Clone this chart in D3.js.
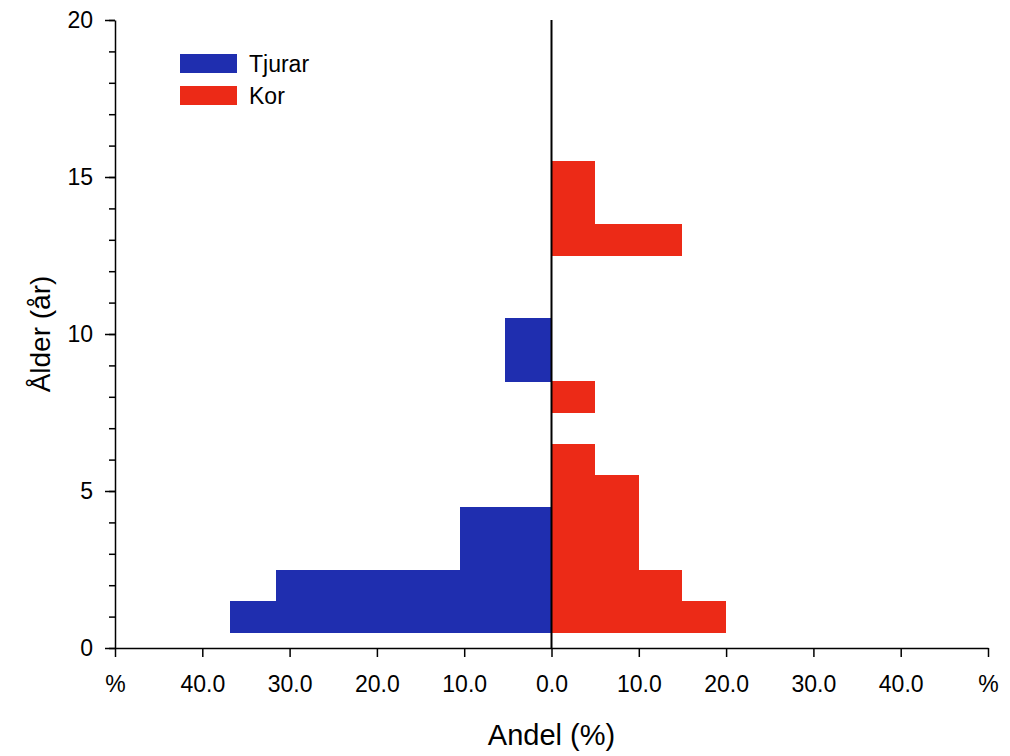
<!DOCTYPE html>
<html><head><meta charset="utf-8">
<script src="https://cdn.jsdelivr.net/npm/d3@7"></script>
<style>body{margin:0;background:#fff;} text{font-family:"Liberation Sans",Arial,sans-serif;fill:#000;}</style>
</head><body><svg id="c" width="1010" height="756"></svg>
<script>
const ages = [1,2,3,4,5,6,7,8,9,10,11,12,13,14,15];
const tjurar = [36.8,31.6,10.5,10.5,0,0,0,0,5.3,5.3,0,0,0,0,0];
const kor    = [20,15,10,10,10,5,0,5,0,0,0,0,15,5,5];
const seriesNames = ["Tjurar","Kor"];
const seriesColors = ["#1f2eaf","#ec2a17"];
const xTicks = [-50,-40,-30,-20,-10,0,10,20,30,40,50];
const yTicks = [0,5,10,15,20];

const svg = d3.select("#c");
const x = d3.scaleLinear().domain([-50,50]).range([115,988]);
const y = d3.scaleLinear().domain([0,20]).range([648,20]);
const FONT = "Liberation Sans, Arial, sans-serif";

// bars
const g = svg.append("g").attr("shape-rendering","crispEdges");
g.selectAll("rect.t").data(ages.map((a,i)=>({a,v:tjurar[i]})).filter(d=>d.v>0)).join("rect")
  .attr("x",d=>x(-d.v)).attr("width",d=>x(0)-x(-d.v))
  .attr("y",d=>y(d.a+0.5)).attr("height",d=>y(d.a-0.5)-y(d.a+0.5)+0.5)
  .attr("fill",seriesColors[0]);
g.selectAll("rect.k").data(ages.map((a,i)=>({a,v:kor[i]})).filter(d=>d.v>0)).join("rect")
  .attr("x",x(0)).attr("width",d=>x(d.v)-x(0))
  .attr("y",d=>y(d.a+0.5)).attr("height",d=>y(d.a-0.5)-y(d.a+0.5)+0.5)
  .attr("fill",seriesColors[1]);

// zero line
svg.append("line").attr("x1",x(0)).attr("x2",x(0)).attr("y1",y(20)).attr("y2",y(0))
  .attr("stroke","#000").attr("stroke-width",2);

// y axis minor
svg.append("g").attr("transform",`translate(${x(-50)},0)`)
  .call(d3.axisLeft(y).tickValues(d3.range(0,21)).tickSize(6).tickFormat("").tickSizeOuter(0))
  .call(s=>s.selectAll("line,path").attr("stroke","#000").attr("stroke-width",1.5));
// y axis major
svg.append("g").attr("transform",`translate(${x(-50)},0)`)
  .call(d3.axisLeft(y).tickValues(yTicks).tickSize(10).tickPadding(12).tickSizeOuter(0))
  .call(s=>s.select(".domain").remove())
  .call(s=>s.selectAll("line").attr("stroke","#000").attr("stroke-width",1.5))
  .call(s=>s.selectAll("text").attr("font-size",23).attr("font-family",FONT));

// x axis
svg.append("g").attr("transform",`translate(0,${y(0)})`)
  .call(d3.axisBottom(x).tickValues(xTicks).tickSize(9).tickPadding(19).tickSizeOuter(0)
    .tickFormat(d=>Math.abs(d)===50?"%":Math.abs(d).toFixed(1)))
  .call(s=>s.selectAll("line,path").attr("stroke","#000").attr("stroke-width",1.5))
  .call(s=>s.selectAll("text").attr("font-size",23).attr("font-family",FONT));

// titles
svg.append("text").attr("x",x(0)).attr("y",745).attr("text-anchor","middle")
  .attr("font-size",29).text("Andel (%)");
svg.append("text").attr("transform",`translate(50,334) rotate(-90)`).attr("text-anchor","middle")
  .attr("font-size",28).text("Ålder (år)");

// legend
const lg = svg.append("g");
seriesNames.forEach((n,i)=>{
  lg.append("rect").attr("x",180).attr("y",54+i*32).attr("width",57).attr("height",19).attr("fill",seriesColors[i]);
  lg.append("text").attr("x",249).attr("y",72+i*32).attr("font-size",23).text(n);
});
</script></body></html>
